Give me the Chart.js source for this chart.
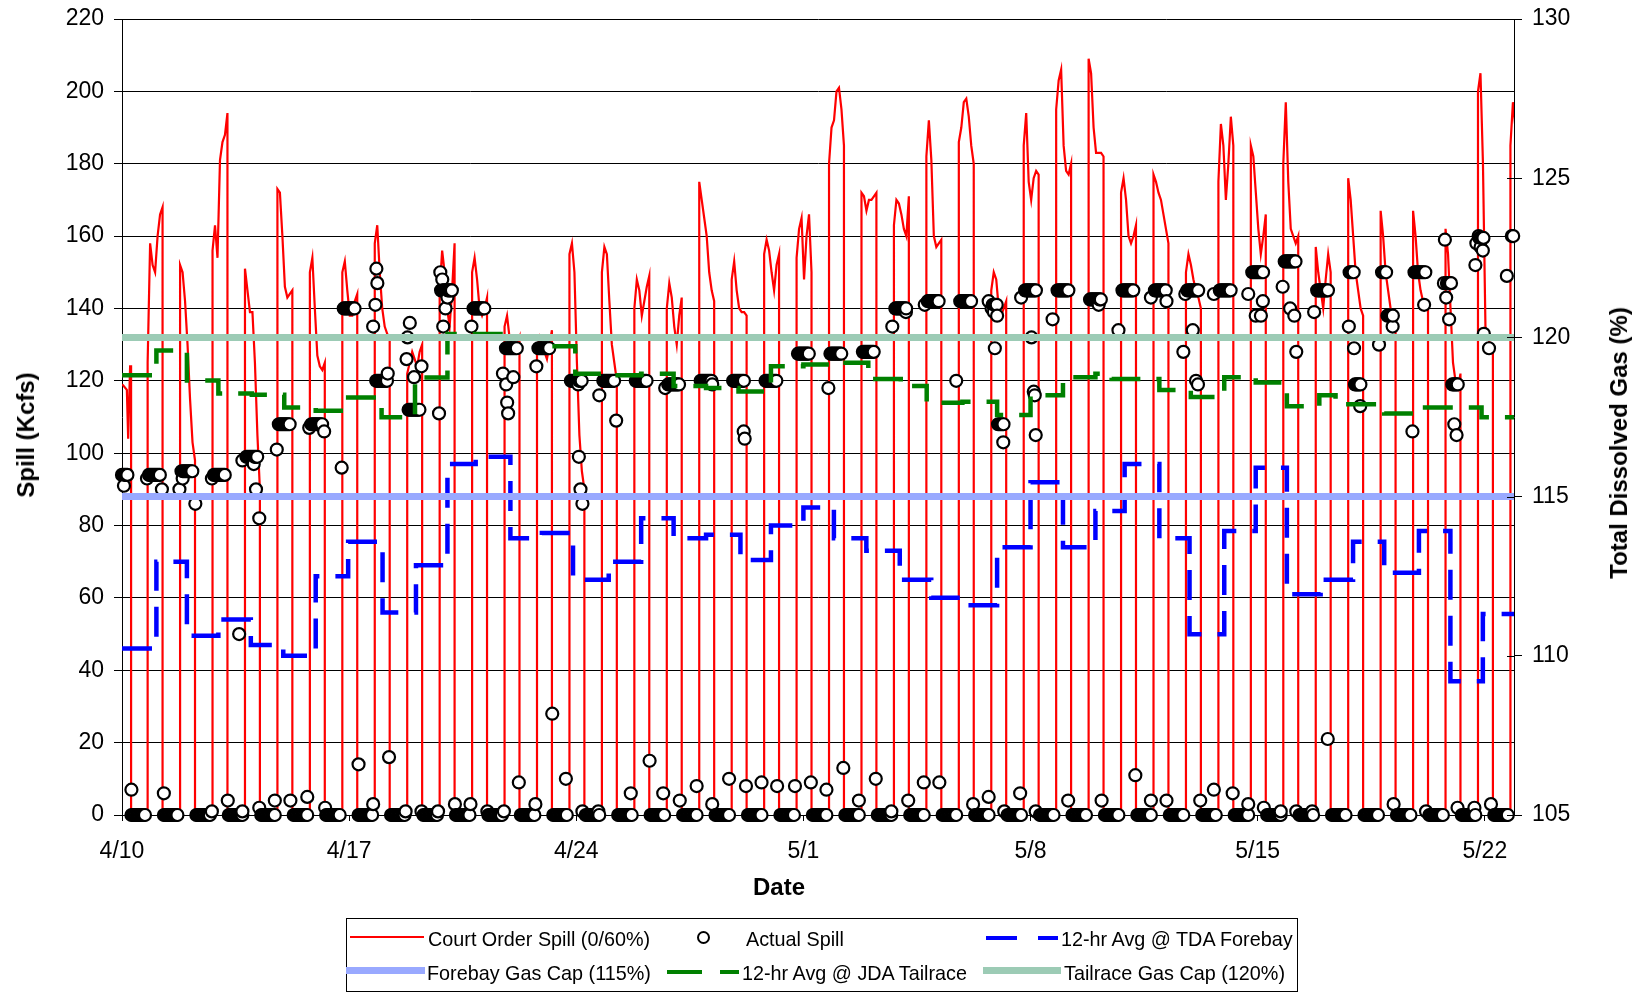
<!DOCTYPE html>
<html><head><meta charset="utf-8">
<script src="https://cdn.jsdelivr.net/npm/chart.js@4.4.1/dist/chart.umd.min.js"></script>
<style>
html,body{margin:0;padding:0;background:#fff;}
#wrap{position:relative;width:1640px;height:992px;overflow:hidden;background:#fff;}
canvas{position:absolute;left:0;top:0;}
.lg{position:absolute;font-family:'Liberation Sans',Arial,sans-serif;font-size:19.8px;line-height:22px;color:#000;white-space:nowrap;}
.ttl{position:absolute;font-family:'Liberation Sans',Arial,sans-serif;font-size:24px;font-weight:bold;line-height:28px;color:#000;white-space:nowrap;transform:translate(-50%,-50%);}
.rot{transform:translate(-50%,-50%) rotate(-90deg);}
.sym{position:absolute;}
#lbox{position:absolute;left:346px;top:918px;width:952px;height:74px;border:1px solid #000;box-sizing:border-box;}
</style></head><body>
<div id="wrap"><canvas id="c" width="1640" height="992"></canvas>
<div class="ttl rot" style="left:26px;top:435px">Spill (Kcfs)</div>
<div class="ttl rot" style="left:1619px;top:443px">Total Dissolved Gas (%)</div>
<div class="ttl" style="left:779px;top:887px">Date</div>
<div id="lbox"></div>
<div class="sym" style="left:350px;top:936px;width:74px;height:2px;background:#ff0000"></div>
<div class="lg" style="left:428px;top:928px">Court Order Spill (0/60%)</div>
<div class="sym" style="left:697px;top:931px;width:9px;height:9px;border:2px solid #000;border-radius:50%;background:#fff"></div>
<div class="lg" style="left:746px;top:928px">Actual Spill</div>
<div class="sym" style="left:986px;top:936px;width:31px;height:4px;background:#0000ff"></div>
<div class="sym" style="left:1038px;top:936px;width:20px;height:4px;background:#0000ff"></div>
<div class="lg" style="left:1061px;top:928px">12-hr Avg @ TDA Forebay</div>
<div class="sym" style="left:346px;top:967px;width:79px;height:7px;background:#99a9ff"></div>
<div class="lg" style="left:427px;top:962px">Forebay Gas Cap (115%)</div>
<div class="sym" style="left:667px;top:970px;width:35px;height:4px;background:#008000"></div>
<div class="sym" style="left:720px;top:970px;width:19px;height:4px;background:#008000"></div>
<div class="lg" style="left:742px;top:962px">12-hr Avg @ JDA Tailrace</div>
<div class="sym" style="left:983px;top:967px;width:78px;height:7px;background:#9ccbb5"></div>
<div class="lg" style="left:1064px;top:962px">Tailrace Gas Cap (120%)</div>
</div>
<script>
// ---------------- DATA ----------------
// x values are days after 4/10 00:00
const xTickDays = [0, 7, 14, 21, 28, 35, 42];
const xTickLabels = ['4/10', '4/17', '4/24', '5/1', '5/8', '5/15', '5/22'];
const dayMin = 0, dayMax = 42.9;

// Court Order Spill (kcfs): tail of the night before 4/10, then one 60% block per night
const courtTailDays = [0, 0.04, 0.15, 0.19, 0.25, 0.28];
const courtTailVals = [119, 118.7, 117.5, 104, 124, 124];
const courtBlockStart = 0.79;   // fraction of day the night block starts
const courtBlockEnd = 1.25;     // fraction (next day) the block ends
const courtNights = [
  [125,158,152,150,160,166,168],
  [152,150,142,130,115,103,98],
  [156,163,154,181,186,188,194],
  [151,145,139,139,125,105,90],
  [173,172,160,146,143,144,145],
  [150,154,140,127,124,123,125],
  [150,153,145,138,138,142,144],
  [158,163,150,140,135,133,132],
  [122,125,128,126,124,128,130],
  [145,156,150,140,135,145,158],
  [150,154,148,140,138,140,143],
  [135,138,132,130,128,130,132],
  [128,132,130,128,126,130,134],
  [155,158,150,125,105,95,90],
  [150,157,155,142,130,125,120],
  [140,148,145,138,142,146,149],
  [140,147,143,135,130,138,143],
  [175,170,165,160,150,145,142],
  [148,153,145,140,139,139,138],
  [155,159,156,150,145,152,155],
  [154,162,165,148,160,166,150],
  [180,190,192,200,201,195,185],
  [172,171,167,170,170,171,172],
  [163,170,169,166,162,160,171],
  [182,192,181,160,157,158,159],
  [186,190,197,198,193,185,180],
  [145,150,148,140,138,140,142],
  [185,194,175,170,176,178,177],
  [195,203,206,185,178,177,180],
  [209,205,190,183,183,183,182],
  [172,176,170,160,158,160,163],
  [177,175,172,170,166,162,158],
  [150,155,152,148,145,143,140],
  [175,191,185,170,180,193,185],
  [185,182,172,162,155,160,166],
  [180,197,175,162,160,158,160],
  [157,150,145,140,148,155,150],
  [176,170,160,150,145,140,138],
  [167,160,150,145,140,138,136],
  [167,160,150,145,142,140,140],
  [162,155,140,125,120,118,122],
  [200,205,180,135,132,130,128],
  [185,197,190,185,180,180,180]
];

// Actual Spill (kcfs), hourly: late-night hours 0-4 of each day, daytime hours 7-17, evening hours 20-23
const spillLate = [94,94,95,94,99,108,108,140,120,112,145,140,129,129,120,120,120,119,120,120,120,127.5,127.5,128,140,142,142,108,145,145,142.5,145,145,145,145,150,153,145,119,138,150,119,null];
const spillEarly = [94,95,94,99,108,108,140,120,112,145,140,129,129,120,120,120,119,120,120,120,127.5,127.5,128,140,142,142,141,145,145,142.5,145,145,145,145,150,153,145,150,150,150,147,159.5,160];
const spillDaytime = 0;
const spillLateHours = [0,1,2,3,4];
const spillDayHours = [7,8,9,10,11,12,13,14,15,16,17];
const spillEveningHours = [20,21,22,23];
// individual readings that do not follow the hourly pattern: [day, kcfs]
const spillExtra = [
  [0.06,91],[0.77,93],[1.23,90],[1.77,90],[1.87,93],[2.26,86],[2.77,93],[3.61,50],[3.71,98],[4.06,97],[4.13,90],[4.23,82],
  [4.77,101],[5.77,107],[6.23,106],[6.77,96],[7.74,135],[7.81,141],[7.84,151],[7.87,147],[8.19,122],[8.77,126],[8.8,132],
  [8.87,136],[9.0,121],[9.23,124],[9.77,111],[9.81,150],[9.87,148],[9.9,135],[9.97,140],[10.03,143],[10.77,135],[11.74,122],
  [11.84,119],[11.87,114],[11.9,111],[12.06,121],[12.77,124],[14.06,119],[14.08,99],[14.13,90],[14.19,86],[14.71,116],
  [15.23,109],[16.74,118],[18.19,119],[19.16,106],[19.19,104],[21.77,118],[23.74,135],[24.16,139],[24.74,141],[25.71,120],
  [26.71,142],[26.8,140],[26.87,139],[26.9,129],[26.97,138],[27.16,103],[27.71,143],[28.03,132],[28.1,117],[28.13,116],
  [28.16,105],[28.68,137],[30.1,141],[30.71,134],[31.71,143],[32.19,142],[32.71,128],[32.77,144],[33.0,134],[33.1,120],
  [33.16,119],[33.65,144],[34.71,144],[34.94,138],[35.1,138],[35.16,142],[35.77,146],[36.0,140],[36.13,138],[36.19,128],
  [36.74,139],[37.81,135],[37.97,129],[38.16,113],[38.74,130],[39.16,135],[39.77,106],[40.13,141],[40.74,147],[40.77,159],
  [40.81,143],[40.9,137],[41.06,108],[41.13,105],[41.71,152],[41.74,158],[41.81,160],[41.87,157],[41.94,156],[41.97,133],
  [42.13,129],[42.68,149],
  [0.29,7],[1.29,6],[2.77,1],[3.26,4],[3.71,1],[4.23,2],[4.71,4],[5.19,4],[5.71,5],[6.26,2],[7.29,14],[7.74,3],[8.23,16],
  [8.74,1],[9.23,1],[9.74,1],[10.26,3],[10.74,3],[11.26,1],[11.77,1],[12.23,9],[12.74,3],[13.26,28],[13.68,10],[14.19,1],
  [14.68,1],[15.68,6],[16.26,15],[16.68,6],[17.19,4],[17.71,8],[18.19,3],[18.71,10],[19.23,8],[19.71,9],[20.19,8],[20.74,8],
  [21.23,9],[21.71,7],[22.23,13],[22.71,4],[23.23,10],[23.71,1],[24.23,4],[24.71,9],[25.19,9],[26.23,3],[26.71,5],[27.19,1],
  [27.68,6],[28.16,1],[29.16,4],[30.19,4],[31.23,11],[31.71,4],[32.19,4],[33.23,4],[33.65,7],[34.23,6],[34.71,3],[35.19,2],
  [35.71,1],[36.19,1],[36.68,1],[37.16,21],[39.19,3],[40.19,1],[41.16,2],[41.68,2],[42.19,3]
];

// 12-hr Avg @ TDA Forebay (% TDG), step changes
const tdaDays = [0,1.06,2.0,2.97,3.97,4.97,5.97,6.97,8.03,9.06,10.03,10.9,11.97,12.94,13.9,15.0,16.0,17.0,18.0,19.06,20.0,21.0,21.94,22.94,23.97,24.94,25.97,26.97,28.0,29.0,30.0,30.9,31.97,32.9,33.97,34.94,35.9,36.94,37.94,38.9,39.97,40.94,41.94];
const tdaVals = [110.23,112.95,110.63,111.14,110.34,110.0,112.5,113.58,111.36,112.84,116.02,116.25,113.69,113.86,112.39,112.95,114.32,113.69,113.8,113.01,114.09,114.66,113.69,113.3,112.39,111.82,111.59,113.41,115.45,113.41,114.55,116.02,113.69,110.68,113.92,115.91,111.93,112.39,113.58,112.61,113.92,109.2,111.31];

// 12-hr Avg @ JDA Tailrace (% TDG), step changes
const jdaDays = [0,1.06,2.0,2.97,4.0,5.0,5.97,6.97,8.0,9.03,10.03,11.97,12.94,13.97,15.0,16.0,17.0,18.0,19.0,20.0,21.0,22.0,23.0,24.0,24.8,25.9,26.97,28.0,29.0,30.0,30.5,31.97,32.94,33.97,34.94,35.9,36.9,37.4,38.9,39.97,41.9];
const jdaVals = [118.81,119.59,118.65,118.24,118.2,117.8,117.7,118.11,117.49,118.74,120.11,120.0,119.72,118.86,118.81,118.86,118.47,118.41,118.3,119.09,119.15,119.2,118.69,118.47,117.95,117.98,117.56,118.18,118.75,118.86,118.69,118.35,118.13,118.75,118.58,117.84,118.18,117.9,117.61,117.8,117.49];

const forebayCap = 115;
const tailraceCap = 120;

// ---------------- BUILD ----------------
const courtPts = [];
courtTailDays.forEach((d, i) => courtPts.push({x: d, y: courtTailVals[i]}));
courtPts.push({x: courtTailDays[courtTailDays.length - 1], y: 0});
courtNights.forEach((vals, n) => {
  const s = n + courtBlockStart, e = n + courtBlockEnd;
  courtPts.push({x: s, y: 0});
  vals.forEach((v, i) => courtPts.push({x: s + (e - s) * i / (vals.length - 1), y: v}));
  courtPts.push({x: e, y: 0});
});

let spillPts = [];
for (let d = 0; d <= 42; d++) {
  if (spillLate[d] != null) spillLateHours.forEach(h => spillPts.push({x: d + h / 24, y: spillLate[d]}));
  spillDayHours.forEach(h => spillPts.push({x: d + h / 24, y: spillDaytime}));
  if (spillEarly[d] != null) spillEveningHours.forEach(h => spillPts.push({x: d + h / 24, y: spillEarly[d]}));
}
spillExtra.forEach(([x, y]) => spillPts.push({x, y}));
spillPts = spillPts.filter(p => p.x >= dayMin && p.x <= dayMax).sort((a, b) => a.x - b.x);

function stepPts(days, vals) {
  const pts = days.map((d, i) => ({x: d, y: vals[i]}));
  pts.push({x: dayMax, y: vals[vals.length - 1]});
  return pts;
}

const FONT = "'Liberation Sans', Arial, sans-serif";
Chart.defaults.font.family = FONT;
Chart.defaults.color = '#000';

// small tick marks on the inner side of the right axis (Excel "cross" ticks)
const innerTicks = {
  id: 'innerTicks',
  afterDraw(chart) {
    const s = chart.scales.y2, ctx = chart.ctx;
    ctx.save();
    ctx.strokeStyle = '#000'; ctx.lineWidth = 1;
    s.ticks.forEach(t => {
      const y = Math.round(s.getPixelForValue(t.value)) + 0.5;
      ctx.beginPath(); ctx.moveTo(s.left - 7, y); ctx.lineTo(s.left, y); ctx.stroke();
    });
    ctx.restore();
  }
};

new Chart(document.getElementById('c'), {
  type: 'scatter',
  plugins: [innerTicks],
  data: {
    datasets: [
      {label: 'Court Order Spill (0/60%)', data: courtPts, showLine: true, borderColor: '#ff0000', borderWidth: 2.2,
       pointRadius: 0, yAxisID: 'y', order: 6, tension: 0},
      {label: 'Actual Spill', data: spillPts, showLine: false, pointRadius: 6, pointBorderWidth: 2.2,
       pointBackgroundColor: '#ffffff', pointBorderColor: '#000000', yAxisID: 'y', order: 5, clip: false},
      {label: '12-hr Avg @ TDA Forebay', data: stepPts(tdaDays, tdaVals), showLine: true, stepped: 'before',
       borderColor: '#0000ff', borderWidth: 4.5, borderDash: [30, 16], pointRadius: 0, yAxisID: 'y2', order: 4},
      {label: 'Forebay Gas Cap (115%)', data: [{x: dayMin, y: forebayCap}, {x: dayMax, y: forebayCap}], showLine: true,
       borderColor: '#99a9ff', borderWidth: 7, pointRadius: 0, yAxisID: 'y2', order: 3},
      {label: '12-hr Avg @ JDA Tailrace', data: stepPts(jdaDays, jdaVals), showLine: true, stepped: 'before',
       borderColor: '#008000', borderWidth: 4.5, borderDash: [30, 16], pointRadius: 0, yAxisID: 'y2', order: 2},
      {label: 'Tailrace Gas Cap (120%)', data: [{x: dayMin, y: tailraceCap}, {x: dayMax, y: tailraceCap}], showLine: true,
       borderColor: '#9ccbb5', borderWidth: 7, pointRadius: 0, yAxisID: 'y2', order: 1}
    ]
  },
  options: {
    responsive: false,
    animation: false,
    layout: {padding: {top: 19, left: 0, right: 0, bottom: 0}},
    plugins: {legend: {display: false}, tooltip: {enabled: false}},
    scales: {
      x: {
        type: 'linear', min: dayMin, max: dayMax,
        afterFit: s => { s.height = 177; s.paddingLeft = 0; s.paddingRight = 0; },
        afterBuildTicks: s => { s.ticks = xTickDays.map(v => ({value: v})); },
        ticks: {font: {size: 23}, padding: 17, maxRotation: 0, autoSkip: false,
                callback: v => xTickLabels[xTickDays.indexOf(v)]},
        grid: {drawOnChartArea: false, drawTicks: true, tickLength: 6, color: '#000'},
        border: {color: '#000', width: 1}
      },
      y: {
        position: 'left', min: 0, max: 220,
        afterFit: s => { s.width = 122; s.paddingTop = 0; s.paddingBottom = 0; },
        ticks: {stepSize: 20, font: {size: 23}, padding: 10},
        grid: {color: '#000', lineWidth: 1, drawTicks: true, tickLength: 8, tickColor: '#000'},
        border: {color: '#000', width: 1}
      },
      y2: {
        position: 'right', min: 105, max: 130,
        afterFit: s => { s.width = 126; s.paddingTop = 0; s.paddingBottom = 0; },
        ticks: {stepSize: 5, font: {size: 23}, padding: 10},
        grid: {drawOnChartArea: false, drawTicks: true, tickLength: 8, color: '#000'},
        border: {color: '#000', width: 1}
      }
    }
  }
});
</script></body></html>
